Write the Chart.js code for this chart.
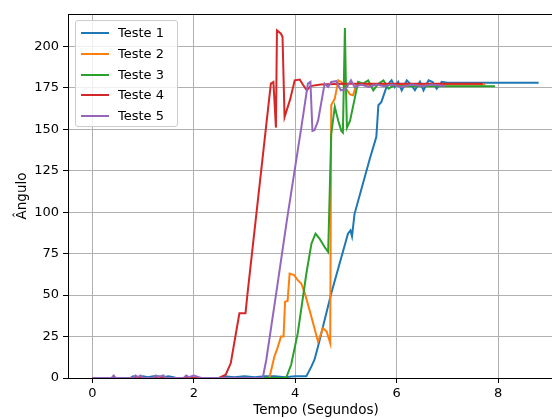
<!DOCTYPE html>
<html>
<head>
<meta charset="utf-8">
<script src="https://cdn.jsdelivr.net/npm/chart.js@4"></script>
<style>
html, body { margin: 0; padding: 0; background: #fff; overflow: hidden; }
#wrap { position: relative; width: 600px; height: 419px; }
#legend {
  position: absolute; left: 75px; top: 20px; width: 103px; height: 107px;
  border: 1px solid #cccccc; border-radius: 3px; background: rgba(255,255,255,0.8);
  font-family: "DejaVu Sans", sans-serif; font-size: 13px; color: #000; box-sizing: border-box;
}
#legend .row { position: absolute; left: 0; height: 16px; line-height: 16px; white-space: nowrap; }
#legend .sw { position: absolute; left: 5px; top: 7px; width: 28px; height: 2px; }
#legend .tx { position: absolute; left: 42px; top: 0; }
</style>
</head>
<body>
<div id="wrap">
<canvas id="grafico" width="600" height="419"></canvas>
<div id="legend"></div>
</div>
<script>
// nomes e cores
var nomes = ['Teste 1', 'Teste 2', 'Teste 3', 'Teste 4', 'Teste 5'];
var cores = ['#1f77b4', '#ff7f0e', '#2ca02c', '#d62728', '#9467bd'];

// Teste 1
var t1 = [0, 0.75, 0.8, 0.9, 1.0, 1.1, 1.2, 1.3, 1.4, 1.5, 1.6, 1.65, 2.5, 2.6, 2.8, 3.0, 3.2, 3.4, 3.6, 3.8, 4.0, 4.12, 4.22, 4.32, 4.38, 4.45, 4.71, 5.04, 5.09, 5.12, 5.17, 5.47, 5.60, 5.64, 5.70, 5.80, 5.87, 5.90, 5.96, 6.03, 6.10, 6.20, 6.28, 6.36, 6.46, 6.53, 6.63, 6.71, 6.79, 6.89, 7.0, 7.5, 8.0, 8.8];
var a1 = [0, 0, 1, 0.5, 1, 0.5, 1, 1, 0.5, 1, 0.5, 0, 0, 1, 0.5, 1, 0.5, 1, 1, 0.5, 1, 1, 1, 7, 11, 19, 51, 87, 89, 85.5, 99, 132, 145.5, 164.5, 166.5, 175.5, 178.6, 179.5, 175.5, 178.6, 173.5, 179.5, 177, 173.5, 178.6, 173.5, 179.5, 178.5, 174.5, 178.6, 178, 178, 178, 178];

// Teste 2
var t2 = [0, 3.49, 3.59, 3.65, 3.72, 3.77, 3.80, 3.85, 3.89, 3.98, 4.05, 4.12, 4.19, 4.30, 4.45, 4.55, 4.62, 4.69, 4.71, 4.78, 4.85, 4.91, 4.98, 5.08, 5.14, 5.20, 5.35, 5.5, 6.0, 6.5, 7.0, 7.75];
var a2 = [0, 0, 13, 18, 25, 25, 46, 46.5, 63, 62, 59, 57, 51, 39, 22, 30, 28, 21, 164.5, 168.5, 179.5, 178.5, 175.5, 171, 170.5, 176.5, 177, 176.5, 177, 176.5, 177, 177];

// Teste 3
var t3 = [0, 3.82, 3.92, 4.05, 4.22, 4.32, 4.40, 4.48, 4.58, 4.65, 4.71, 4.78, 4.85, 4.91, 4.94, 4.98, 5.00, 5.02, 5.08, 5.17, 5.24, 5.34, 5.44, 5.54, 5.64, 5.74, 5.84, 5.95, 6.1, 6.5, 7.0, 7.94];
var a3 = [0, 0, 8, 27, 63, 81, 87, 84, 79, 76, 147, 163.5, 155, 149, 148, 211, 176, 151, 155, 168, 178.6, 177.5, 179.5, 173.5, 177.5, 179.5, 174.5, 176.5, 176, 176, 176, 176];

// Teste 4
var t4 = [0, 2.5, 2.63, 2.73, 2.82, 2.90, 3.02, 3.06, 3.52, 3.57, 3.62, 3.64, 3.72, 3.75, 3.79, 3.90, 3.99, 4.09, 4.15, 4.23, 4.30, 4.5, 5.0, 6.0, 7.0, 7.7];
var a4 = [0, 0, 2, 9, 25, 39, 39, 51, 177.5, 178.5, 151, 209.6, 207.6, 205.6, 157.4, 168, 179.5, 180, 177, 173.5, 176, 177, 177.5, 177.5, 177.5, 177.5];

// Teste 5
var t5 = [0, 0.38, 0.42, 0.46, 0.8, 0.85, 0.9, 0.95, 1.0, 1.2, 1.25, 1.3, 1.4, 1.45, 1.8, 1.85, 1.9, 2.0, 2.1, 2.15, 3.36, 3.43, 3.62, 3.84, 4.12, 4.25, 4.30, 4.34, 4.38, 4.45, 4.58, 4.65, 4.71, 4.81, 4.90, 4.99, 5.10, 5.17, 5.3, 5.45, 5.6, 5.75, 5.9, 6.1, 6.3, 6.5, 6.7, 6.95];
var a5 = [0, 0, 1.5, 0, 0, 1.5, 0.5, 1.5, 0, 0, 1.5, 0.5, 1.5, 0, 0, 1.5, 0.5, 1.5, 0.5, 0, 0, 11, 50, 96, 151, 177.5, 178.6, 149, 149.4, 155, 177.5, 175.5, 178.5, 179, 173.5, 174, 179.5, 175.5, 177, 175.5, 177, 176, 177, 175.5, 177, 176, 177, 176];

var tempos = [t1, t2, t3, t4, t5];
var angulos = [a1, a2, a3, a4, a5];

var xTicks = [0, 2, 4, 6, 8];
var yTicks = [0, 25, 50, 75, 100, 125, 150, 175, 200];

var datasets = [];
for (var i = 0; i < nomes.length; i++) {
  var pts = [];
  for (var j = 0; j < tempos[i].length; j++) {
    pts.push({x: tempos[i][j], y: angulos[i][j]});
  }
  datasets.push({
    label: nomes[i],
    data: pts,
    borderColor: cores[i],
    backgroundColor: cores[i],
    borderWidth: 2,
    pointRadius: 0,
    tension: 0,
    fill: false,
    order: nomes.length - 1 - i
  });
}

// bordas de cima e da direita
var molduraPlugin = {
  id: 'moldura',
  afterDraw: function(chart) {
    var a = chart.chartArea, ctx = chart.ctx;
    ctx.save();
    ctx.strokeStyle = '#000';
    ctx.lineWidth = 1;
    ctx.beginPath();
    ctx.moveTo(a.left, a.top + 0.5);
    ctx.lineTo(a.right, a.top + 0.5);
    ctx.lineTo(a.right, a.bottom);
    ctx.stroke();
    ctx.restore();
  }
};

var fonte = {family: 'DejaVu Sans', size: 13};

var ctx = document.getElementById('grafico').getContext('2d');
var grafico = new Chart(ctx, {
  type: 'line',
  data: {datasets: datasets},
  options: {
    responsive: false,
    animation: false,
    devicePixelRatio: 1,
    layout: {padding: {top: 14, right: 36, bottom: 0, left: 0}},
    plugins: {legend: {display: false}, tooltip: {enabled: false}},
    scales: {
      x: {
        type: 'linear',
        min: -0.48,
        max: 9.3,
        afterBuildTicks: function(s) { s.ticks = xTicks.map(function(v) { return {value: v}; }); },
        afterFit: function(s) { s.height = 41; },
        grid: {color: '#b0b0b0', lineWidth: 1, tickColor: '#000', tickLength: 5},
        border: {display: true, color: '#000', width: 1},
        ticks: {color: '#000', font: fonte, padding: 3, maxRotation: 0},
        title: {display: true, text: 'Tempo (Segundos)', color: '#000', font: {family: 'DejaVu Sans', size: 13.5}, padding: {top: 0, bottom: 0}}
      },
      y: {
        type: 'linear',
        min: 0,
        max: 219.5,
        afterBuildTicks: function(s) { s.ticks = yTicks.map(function(v) { return {value: v}; }); },
        afterFit: function(s) { s.width = 68; },
        grid: {color: '#b0b0b0', lineWidth: 1, tickColor: '#000', tickLength: 5},
        border: {display: true, color: '#000', width: 1},
        ticks: {color: '#000', font: fonte, padding: 4},
        title: {display: true, text: 'Ângulo', color: '#000', font: {family: 'DejaVu Sans', size: 13.5}, padding: {top: 14, bottom: 0}}
      }
    }
  },
  plugins: [molduraPlugin]
});

// legenda dentro do gráfico
var leg = document.getElementById('legend');
for (var k = 0; k < nomes.length; k++) {
  var row = document.createElement('div');
  row.className = 'row';
  row.style.top = (4 + k * 20.8) + 'px';
  row.innerHTML = '<span class="sw" style="background:' + cores[k] + '"></span><span class="tx">' + nomes[k] + '</span>';
  leg.appendChild(row);
}
</script>
</body>
</html>
